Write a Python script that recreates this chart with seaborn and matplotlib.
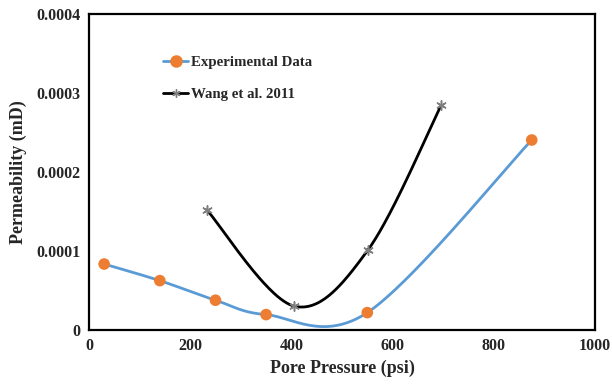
import numpy as np
import pandas as pd
import matplotlib
matplotlib.use("Agg")
import matplotlib.pyplot as plt
import seaborn as sns
from matplotlib.lines import Line2D

# ---- data ----
exp_pressure = [30, 140, 250, 350, 550, 875]
exp_perm = [0.0000835, 0.0000625, 0.0000377, 0.0000195, 0.0000220, 0.0002405]
wang_pressure = [233, 405, 551, 696]
wang_perm = [0.000152, 0.0000303, 0.000101, 0.0002845]
x_ticks = [0, 200, 400, 600, 800, 1000]
y_ticks = [0, 0.0001, 0.0002, 0.0003, 0.0004]
y_tick_labels = ["0", "0.0001", "0.0002", "0.0003", "0.0004"]

def excel_smooth(xs, ys, n=60):
    """Excel-like smoothed line (Bezier with Catmull-Rom control points)."""
    P = np.column_stack([xs, ys]).astype(float)
    out = []
    for i in range(len(P) - 1):
        p0 = P[i - 1] if i > 0 else P[i]
        p1 = P[i]
        p2 = P[i + 1]
        p3 = P[i + 2] if i + 2 < len(P) else P[i + 1]
        c1 = p1 + (p2 - p0) / 6.0
        c2 = p2 - (p3 - p1) / 6.0
        t = np.linspace(0, 1, n)[:, None]
        seg = ((1 - t) ** 3) * p1 + 3 * ((1 - t) ** 2) * t * c1 + 3 * (1 - t) * t ** 2 * c2 + t ** 3 * p2
        out.append(seg if i == 0 else seg[1:])
    arr = np.vstack(out)
    return arr[:, 0], arr[:, 1]

sns.set_theme(style="white")
plt.rcParams["font.family"] = ["Liberation Serif", "DejaVu Serif"]
plt.rcParams["font.weight"] = "bold"

fig = plt.figure(figsize=(6.12, 3.84), dpi=100)
ax = fig.add_axes([0.1454, 0.1406, 0.8268, 0.8229])

blue = "#5B9BD5"
orange = "#ED7D31"

ex, ey = excel_smooth(exp_pressure, exp_perm)
wx, wy = excel_smooth(wang_pressure, wang_perm)

sns.lineplot(x=ex, y=ey, ax=ax, color=blue, linewidth=2, sort=False, estimator=None)
sns.scatterplot(x=exp_pressure, y=exp_perm, ax=ax, color=orange, s=70, edgecolor="none", zorder=5)
sns.lineplot(x=wx, y=wy, ax=ax, color="black", linewidth=2, sort=False, estimator=None)
sns.scatterplot(x=wang_pressure, y=wang_perm, ax=ax, color="#7F7F7F", marker=(6, 2, 0), s=45,
                linewidth=1.1, zorder=5)

ax.set_xlim(0, 1000)
ax.set_ylim(0, 0.0004)
ax.set_xticks(x_ticks)
ax.set_yticks(y_ticks)
ax.set_yticklabels(y_tick_labels)
ax.tick_params(direction="in", length=4, width=1.2, color="black", labelsize=11.5, pad=6)
for lbl in ax.get_xticklabels() + ax.get_yticklabels():
    lbl.set_fontweight("bold")
for sp in ax.spines.values():
    sp.set_color("black")
    sp.set_linewidth(1.6)

ax.set_xlabel("Pore Pressure (psi)", fontsize=13, fontweight="bold", labelpad=4)
ax.set_ylabel("Permeability (mD)", fontsize=13, fontweight="bold", labelpad=7)

handles = [
    Line2D([0], [0], color=blue, linewidth=2, marker="o", markersize=8,
           markerfacecolor=orange, markeredgecolor=orange),
    Line2D([0], [0], color="black", linewidth=2, marker=(6, 2, 0), markersize=6,
           markeredgecolor="#7F7F7F", markeredgewidth=1.0),
]
ax.legend(handles, ["Experimental Data", "Wang et al. 2011"], loc="upper left",
          bbox_to_anchor=(0.12, 0.91), frameon=False,
          handlelength=1.7, handletextpad=0.2, labelspacing=1.25,
          prop={"weight": "bold", "size": 10.7})

fig.savefig("out.png", dpi=100)
